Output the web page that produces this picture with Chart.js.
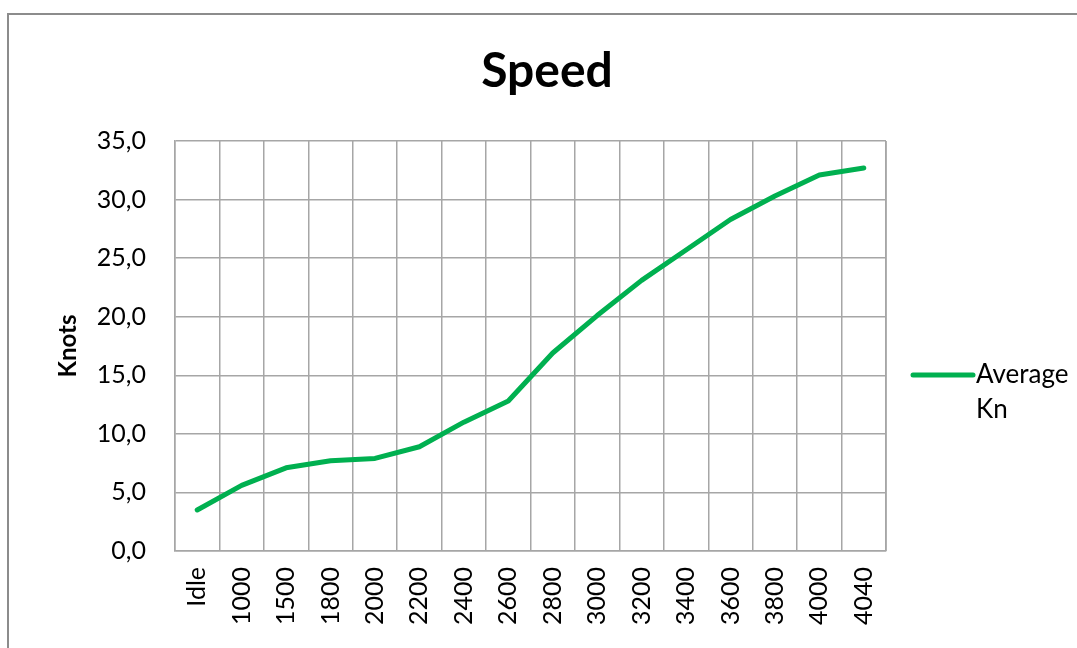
<!DOCTYPE html>
<html>
<head>
<meta charset="utf-8">
<script src="https://cdn.jsdelivr.net/npm/chart.js@4/dist/chart.umd.min.js"></script>
<style>
  html, body { margin: 0; padding: 0; background: #fff; }
  #wrap { position: relative; width: 1077px; height: 648px; overflow: hidden; }
  #frame { position: absolute; left: 7px; top: 13px; width: 1200px; height: 800px;
           border-top: 2px solid #8c8c8c; border-left: 2px solid #8c8c8c; box-sizing: border-box; }
  canvas { position: absolute; left: 0; top: 0; }
</style>
</head>
<body>
<div id="wrap">
  <div id="frame"></div>
  <canvas id="c" width="1077" height="648"></canvas>
</div>
<script>
const categories = ['Idle','1000','1500','1800','2000','2200','2400','2600','2800','3000','3200','3400','3600','3800','4000','4040'];
const averageKn = [3.5, 5.6, 7.1, 7.7, 7.9, 8.9, 11.0, 12.8, 16.9, 20.1, 23.1, 25.7, 28.3, 30.3, 32.1, 32.7];
const yTicks = [0, 5, 10, 15, 20, 25, 30, 35];
const seriesName = 'Average Kn';
const chartTitle = 'Speed';
const yTitle = 'Knots';

const GREEN = '#00B050';
const GRID = '#a6a6a6';
const FONT = 'Lato, "Open Sans", sans-serif';

const legendPlugin = {
  id: 'sideLegend',
  afterDraw(chart) {
    const ctx = chart.ctx;
    const a = chart.chartArea;
    const ds = chart.data.datasets[0];
    const x0 = a.right + 27, x1 = x0 + 60, y = 375;
    ctx.save();
    ctx.strokeStyle = ds.borderColor;
    ctx.lineWidth = 5;
    ctx.lineCap = 'round';
    ctx.beginPath(); ctx.moveTo(x0, y); ctx.lineTo(x1, y); ctx.stroke();
    ctx.fillStyle = '#000';
    ctx.font = '26px ' + FONT;
    ctx.textBaseline = 'middle';
    const words = ds.label.split(' ');
    words.forEach((w, i) => ctx.fillText(w, x1 + 3, y + i * 35));
    ctx.restore();
  }
};

const titlePlugin = {
  id: 'centerTitle',
  afterDraw(chart) {
    const ctx = chart.ctx;
    ctx.save();
    ctx.fillStyle = '#000';
    ctx.font = 'bold 48px ' + FONT;
    ctx.textAlign = 'center';
    ctx.textBaseline = 'middle';
    ctx.fillText(chartTitle, 547, 72);
    ctx.restore();
  }
};

new Chart(document.getElementById('c'), {
  type: 'line',
  data: {
    labels: categories,
    datasets: [{
      label: seriesName,
      data: averageKn,
      borderColor: GREEN,
      backgroundColor: GREEN,
      borderWidth: 5,
      pointRadius: 0,
      borderCapStyle: 'round',
      borderJoinStyle: 'round',
      tension: 0
    }]
  },
  options: {
    responsive: false,
    animation: false,
    devicePixelRatio: 1,
    layout: { padding: { left: 50, right: 191, top: 141, bottom: 0 } },
    plugins: {
      legend: { display: false },
      tooltip: { enabled: false },
      title: { display: false }
    },
    scales: {
      x: {
        offset: true,
        grid: { offset: true, color: GRID, lineWidth: 1.5, drawTicks: false },
        border: { color: GRID, width: 1.5 },
        ticks: {
          color: '#000',
          font: { family: FONT, size: 25 },
          maxRotation: 90, minRotation: 90,
          padding: 16,
          autoSkip: false
        },
        afterFit(s) { s.height = 97; }
      },
      y: {
        min: 0, max: 35,
        afterBuildTicks(s) { s.ticks = yTicks.map(v => ({ value: v })); },
        grid: { color: GRID, lineWidth: 1.5, drawTicks: false },
        border: { color: GRID, width: 1.5 },
        ticks: {
          color: '#000',
          font: { family: FONT, size: 25 },
          padding: 29,
          callback: v => v.toFixed(1).replace('.', ',')
        },
        title: {
          display: true,
          text: yTitle,
          color: '#000',
          font: { family: FONT, size: 24, weight: 'bold', lineHeight: 1.2 },
          padding: { top: 4, bottom: 0 }
        },
        afterFit(s) { s.width = 125; }
      }
    }
  },
  plugins: [legendPlugin, titlePlugin, {
    id: 'rightBorder',
    afterDraw(chart) {
      const a = chart.chartArea, ctx = chart.ctx;
      ctx.save(); ctx.strokeStyle = GRID; ctx.lineWidth = 1.5;
      ctx.beginPath(); ctx.moveTo(a.right, a.top); ctx.lineTo(a.right, a.bottom); ctx.stroke();
      ctx.restore();
    }
  }]
});
</script>
</body>
</html>
